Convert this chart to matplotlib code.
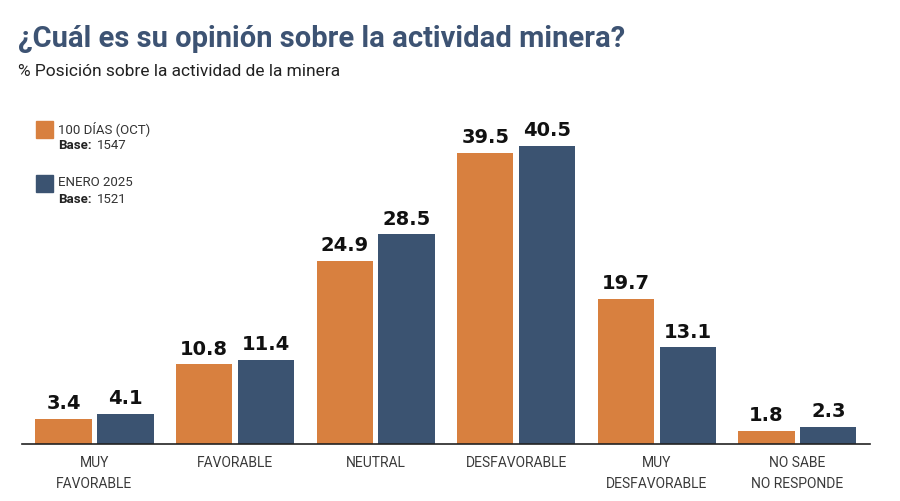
import matplotlib
matplotlib.use('Agg')
import matplotlib.pyplot as plt
import numpy as np

# datos
categorias = ['MUY\nFAVORABLE', 'FAVORABLE', 'NEUTRAL', 'DESFAVORABLE',
              'MUY\nDESFAVORABLE', 'NO SABE\nNO RESPONDE']
oct_100dias = [3.4, 10.8, 24.9, 39.5, 19.7, 1.8]
enero_2025 = [4.1, 11.4, 28.5, 40.5, 13.1, 2.3]
series = ['100 DÍAS (OCT)', 'ENERO 2025']
bases = ['1547', '1521']

naranja = '#D8803F'
azul = '#3B5371'

plt.rcParams['font.family'] = ['Roboto', 'DejaVu Sans']

fig = plt.figure(figsize=(9, 5.01), dpi=100)
ax = fig.add_axes([0.0244, 0.1138, 0.9422, 0.6866])

x = np.arange(len(categorias))
w = 0.40
off = 0.22
b1 = ax.bar(x - off, oct_100dias, w, color=naranja)
b2 = ax.bar(x + off, enero_2025, w, color=azul)

for barras in (b1, b2):
    for b in barras:
        h = b.get_height()
        ax.annotate(f'{h:.1f}', (b.get_x() + b.get_width() / 2, h),
                    xytext=(0, 4), textcoords='offset points',
                    ha='center', va='bottom', fontsize=14, fontweight='bold',
                    color='#111111', family=['DejaVu Sans'])

ax.set_xlim(-0.516, 5.516)
ax.set_ylim(0, 46.7)
ax.set_xticks(x)
ax.set_xticklabels(categorias, fontsize=10, color='#3a3a3a', linespacing=1.6)
ax.tick_params(axis='x', length=0, pad=9)
ax.set_yticks([])
for s in ['top', 'right', 'left']:
    ax.spines[s].set_visible(False)
ax.spines['bottom'].set_color('#222222')
ax.spines['bottom'].set_linewidth(1.2)

# titulo
fig.text(0.02, 0.922, '¿Cuál es su opinión sobre la actividad minera?',
         fontsize=21, fontweight='bold', color='#3D5373', va='center')
fig.text(0.02, 0.857, '% Posición sobre la actividad de la minera',
         fontsize=12.5, color='#222222', va='center')

# leyenda manual
colores = [naranja, azul]
ys = [0.742, 0.634]
renderer = fig.canvas.get_renderer()
for c, nombre, base, yy in zip(colores, series, bases, ys):
    fig.patches.append(plt.Rectangle((0.040, yy - 0.017), 0.019, 0.034,
                                     transform=fig.transFigure, color=c))
    fig.text(0.065, yy + 0.002, nombre, fontsize=9.5, color='#333333', va='center')
    t = fig.text(0.065, yy - 0.033, 'Base:', fontsize=9.5, fontweight='bold',
                 color='#222222', va='center')
    bb = t.get_window_extent(renderer=renderer)
    x1 = fig.transFigure.inverted().transform((bb.x1, 0))[0]
    fig.text(x1 + 0.005, yy - 0.033, base, fontsize=9.5, color='#333333', va='center')

fig.savefig('out.png', dpi=100)
